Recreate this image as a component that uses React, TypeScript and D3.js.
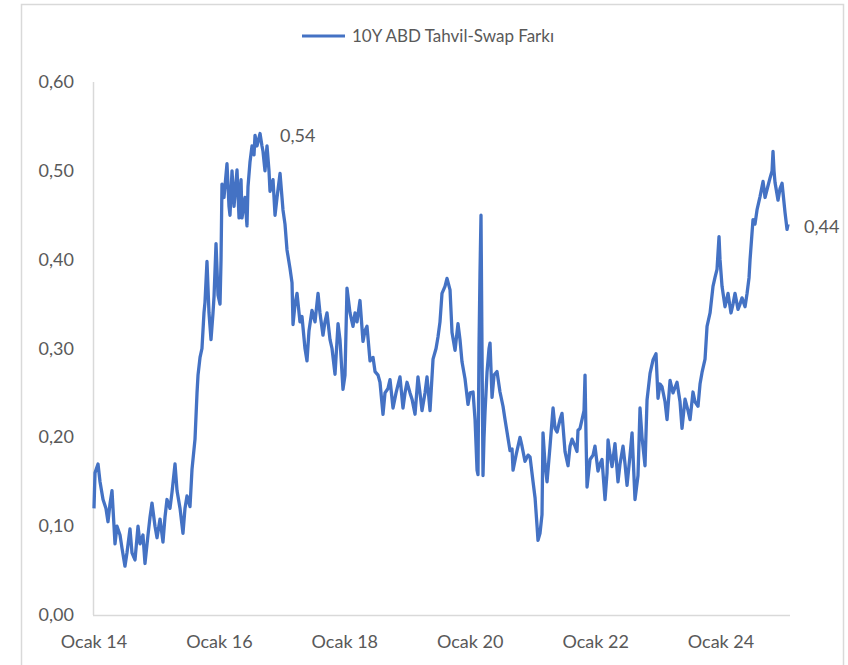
import React from "react";
import * as d3 from "d3";

const seriesName = "10Y ABD Tahvil-Swap Farkı";

// decimal year, spread value
const years: number[] = [
  2014.000,2014.016,2014.064,2014.096,2014.144,2014.191,2014.223,2014.255,2014.287,2014.319,2014.335,2014.367,2014.415,2014.447,2014.494,2014.526,2014.574,2014.606,2014.654,2014.702,2014.734,2014.781,2014.813,2014.861,2014.893,2014.925,2014.973,
  2015.005,2015.053,2015.100,2015.132,2015.164,2015.212,2015.244,2015.292,2015.324,2015.372,2015.419,2015.451,2015.483,2015.531,2015.563,2015.611,2015.643,2015.659,2015.691,2015.722,2015.754,2015.770,2015.802,2015.834,2015.866,2015.898,2015.914,2015.946,2015.978,
  2016.010,2016.026,2016.041,2016.073,2016.121,2016.153,2016.169,2016.201,2016.233,2016.281,2016.313,2016.345,2016.360,2016.408,2016.440,2016.456,2016.488,2016.520,2016.552,2016.568,2016.600,2016.648,2016.679,2016.695,2016.727,2016.759,2016.791,2016.807,2016.855,2016.887,2016.919,2016.967,2016.998,
  2017.014,2017.046,2017.078,2017.126,2017.158,2017.174,2017.206,2017.238,2017.285,2017.317,2017.365,2017.397,2017.429,2017.477,2017.525,2017.573,2017.604,2017.652,2017.684,2017.716,2017.764,2017.796,2017.844,2017.892,2017.923,2017.971,
  2018.003,2018.035,2018.083,2018.131,2018.163,2018.195,2018.242,2018.290,2018.322,2018.354,2018.402,2018.450,2018.482,2018.530,2018.561,2018.609,2018.641,2018.689,2018.721,2018.769,2018.817,2018.880,2018.928,2018.960,2018.992,
  2019.040,2019.072,2019.120,2019.167,2019.199,2019.231,2019.279,2019.311,2019.359,2019.407,2019.455,2019.486,2019.518,2019.550,2019.598,2019.630,2019.678,2019.710,2019.758,2019.805,2019.837,2019.869,2019.917,2019.965,2019.997,
  2020.045,2020.077,2020.109,2020.124,2020.140,2020.156,2020.172,2020.188,2020.204,2020.220,2020.236,2020.268,2020.300,2020.316,2020.348,2020.380,2020.427,2020.475,2020.523,2020.555,2020.587,2020.635,2020.667,2020.683,2020.731,2020.794,2020.826,2020.874,2020.922,2020.954,
  2021.002,2021.034,2021.066,2021.081,2021.113,2021.145,2021.161,2021.193,2021.225,2021.273,2021.321,2021.353,2021.385,2021.432,2021.464,2021.512,2021.560,2021.592,2021.624,2021.672,2021.703,2021.719,2021.751,2021.783,2021.815,2021.831,2021.847,2021.863,2021.911,2021.959,2021.990,
  2022.038,2022.070,2022.102,2022.150,2022.182,2022.198,2022.230,2022.262,2022.309,2022.357,2022.389,2022.437,2022.469,2022.501,2022.549,2022.581,2022.628,2022.676,2022.708,2022.740,2022.788,2022.820,2022.868,2022.915,2022.963,2022.995,
  2023.027,2023.059,2023.107,2023.139,2023.187,2023.234,2023.298,2023.346,2023.378,2023.426,2023.474,2023.506,2023.553,2023.585,2023.633,2023.665,2023.697,2023.745,2023.777,2023.825,2023.872,2023.904,2023.936,2023.968,2023.984,
  2024.016,2024.064,2024.112,2024.159,2024.191,2024.223,2024.271,2024.303,2024.335,2024.383,2024.415,2024.447,2024.463,2024.510,2024.542,2024.574,2024.622,2024.670,2024.702,2024.734,2024.782,2024.814,2024.829,2024.845,2024.861,2024.909,2024.941,2024.973,
  2025.021,2025.053,2025.069,
];

const spread: number[] = [
  0.120,0.160,0.170,0.150,0.130,0.120,0.105,0.125,0.140,0.100,0.080,0.100,0.090,0.075,0.055,0.070,0.097,0.070,0.062,0.100,0.080,0.090,0.058,0.090,0.110,0.126,0.100,
  0.087,0.108,0.082,0.110,0.130,0.120,0.138,0.170,0.140,0.120,0.092,0.120,0.134,0.122,0.164,0.198,0.250,0.270,0.290,0.300,0.340,0.352,0.398,0.340,0.310,0.340,0.358,0.418,0.360,
  0.350,0.400,0.485,0.470,0.508,0.460,0.450,0.500,0.460,0.501,0.447,0.490,0.447,0.470,0.438,0.482,0.510,0.528,0.518,0.540,0.528,0.542,0.528,0.522,0.500,0.528,0.500,0.477,0.490,0.450,0.470,0.497,0.470,
  0.456,0.440,0.411,0.390,0.374,0.327,0.350,0.362,0.330,0.336,0.300,0.286,0.320,0.343,0.330,0.362,0.340,0.315,0.330,0.340,0.310,0.300,0.271,0.328,0.310,0.254,
  0.270,0.368,0.340,0.325,0.340,0.330,0.354,0.308,0.320,0.325,0.286,0.290,0.274,0.270,0.262,0.226,0.250,0.255,0.265,0.233,0.250,0.268,0.233,0.250,0.262,
  0.250,0.243,0.226,0.268,0.250,0.230,0.250,0.268,0.230,0.288,0.300,0.313,0.330,0.362,0.370,0.379,0.366,0.318,0.298,0.328,0.310,0.285,0.266,0.237,0.250,
  0.251,0.220,0.163,0.158,0.300,0.385,0.450,0.300,0.157,0.200,0.228,0.273,0.300,0.306,0.245,0.270,0.274,0.251,0.235,0.220,0.206,0.185,0.187,0.163,0.180,0.200,0.190,0.173,0.180,0.178,
  0.150,0.132,0.100,0.084,0.092,0.113,0.205,0.170,0.150,0.190,0.233,0.210,0.206,0.220,0.227,0.184,0.168,0.190,0.198,0.190,0.184,0.208,0.210,0.220,0.230,0.270,0.200,0.144,0.175,0.180,0.190,
  0.162,0.170,0.175,0.130,0.160,0.197,0.180,0.167,0.193,0.150,0.170,0.190,0.170,0.146,0.180,0.205,0.130,0.157,0.233,0.200,0.168,0.242,0.272,0.287,0.294,0.244,
  0.260,0.257,0.240,0.220,0.264,0.250,0.262,0.240,0.210,0.243,0.230,0.220,0.251,0.240,0.235,0.260,0.273,0.288,0.325,0.340,0.370,0.380,0.389,0.426,0.400,
  0.370,0.347,0.362,0.340,0.350,0.362,0.344,0.350,0.357,0.347,0.362,0.380,0.400,0.445,0.440,0.456,0.471,0.488,0.470,0.479,0.492,0.500,0.522,0.500,0.487,0.467,0.480,0.486,
  0.453,0.434,0.440,
];

const yTicks: number[] = [0, 0.1, 0.2, 0.3, 0.4, 0.5, 0.6];
const xTickYears: number[] = [2014, 2016, 2018, 2020, 2022, 2024];
const xTickLabels: string[] = ["Ocak 14", "Ocak 16", "Ocak 18", "Ocak 20", "Ocak 22", "Ocak 24"];

const W = 848;
const H = 665;
const FONT = "Lato, 'Open Sans', sans-serif";
const TEXT = "#595959";
const BLUE = "#4472C4";
const GRID = "#d9d9d9";

const fmt = (v: number) => v.toFixed(2).replace(".", ",");

export default function App() {
  const x = d3.scaleLinear().domain([2014, 2025.1]).range([94, 790]);
  const y = d3.scaleLinear().domain([0, 0.6]).range([615, 82]);
  const pts = years.map((t, i) => [t, spread[i]] as [number, number]);
  const line = d3
    .line<[number, number]>()
    .x((d) => x(d[0]))
    .y((d) => y(d[1]));

  const maxIdx = d3.maxIndex(spread);
  const lastIdx = spread.length - 1;

  return (
    <div style={{ position: "absolute", left: 0, top: 0 }}>
      <svg width={W} height={H} style={{ display: "block" }}>
        <rect x={0} y={0} width={W} height={H} fill="#fff" />
        <rect x={21.5} y={4.5} width={822} height={H + 10} fill="none" stroke={GRID} strokeWidth={1.5} />
        {/* axes */}
        <line x1={93.5} x2={93.5} y1={y(0.6)} y2={y(0)} stroke={GRID} strokeWidth={1.5} />
        <line x1={93} x2={790} y1={y(0) + 0.5} y2={y(0) + 0.5} stroke={GRID} strokeWidth={1.5} />
        {yTicks.map((t) => (
          <text key={t} x={74} y={y(t) + 6} textAnchor="end" fontFamily={FONT} fontSize={18} fill={TEXT}>
            {fmt(t)}
          </text>
        ))}
        {xTickYears.map((t, i) => (
          <text key={t} x={x(t)} y={648} textAnchor="middle" fontFamily={FONT} fontSize={18} fill={TEXT}>
            {xTickLabels[i]}
          </text>
        ))}
        <path d={line(pts) || ""} fill="none" stroke={BLUE} strokeWidth={3.3} strokeLinejoin="round" />
        <text x={x(years[maxIdx]) + 20} y={y(spread[maxIdx]) + 8} fontFamily={FONT} fontSize={18} fill={TEXT}>
          {fmt(spread[maxIdx])}
        </text>
        <text x={x(years[lastIdx]) + 16} y={y(spread[lastIdx]) + 9} fontFamily={FONT} fontSize={18} fill={TEXT}>
          {fmt(spread[lastIdx])}
        </text>
        {/* legend */}
        <line x1={302} x2={345} y1={36} y2={36} stroke={BLUE} strokeWidth={3} />
        <text x={352} y={42} fontFamily={FONT} fontSize={17} fill={TEXT}>
          {seriesName}
        </text>
      </svg>
    </div>
  );
}
